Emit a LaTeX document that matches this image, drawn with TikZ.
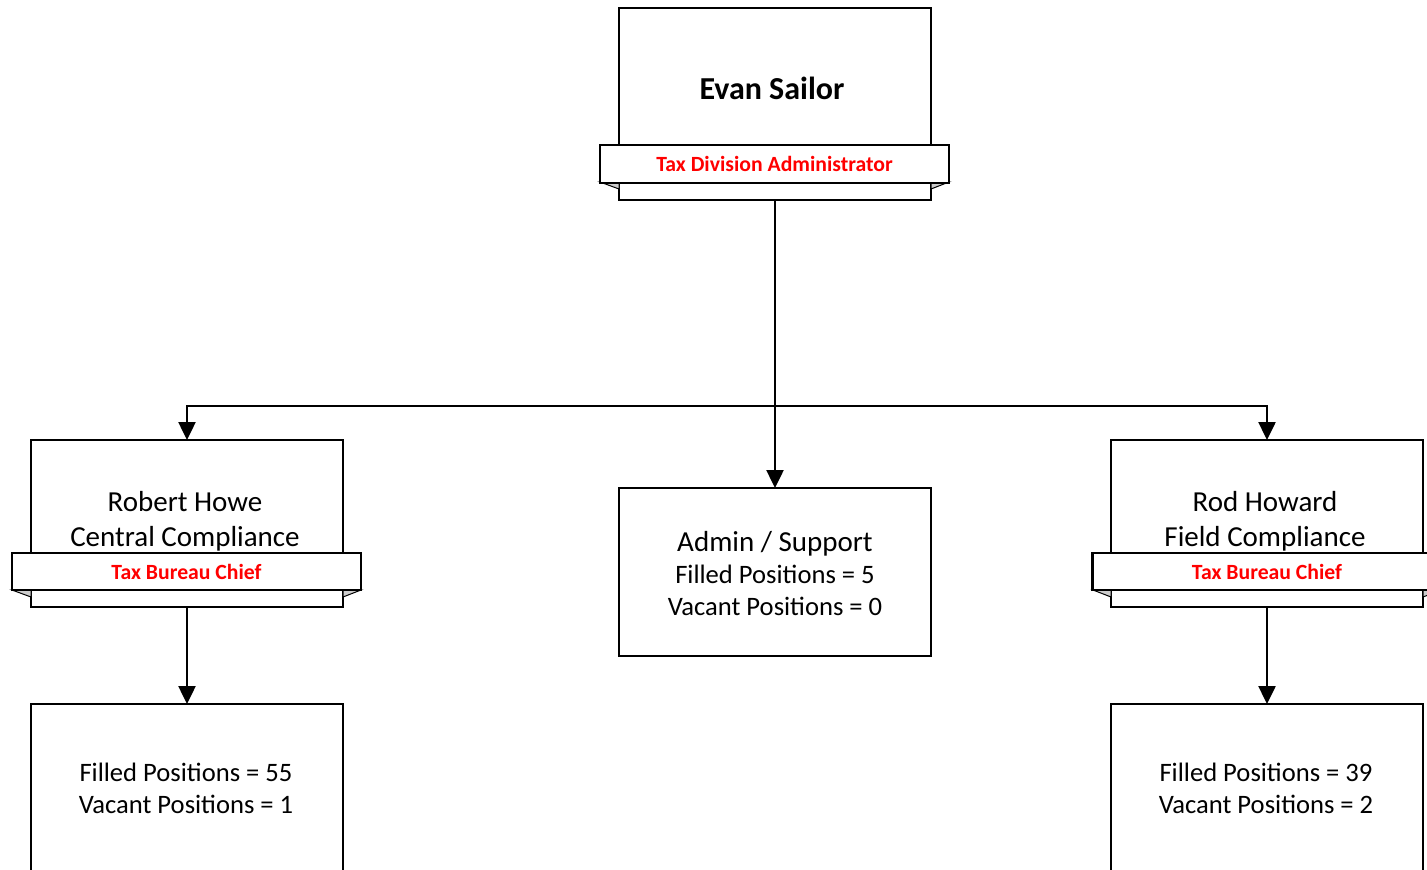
\documentclass[tikz,border=0pt]{standalone}
\usepackage{fontspec}
\setmainfont{Carlito}
\usetikzlibrary{arrows.meta}
\begin{document}
\begin{tikzpicture}[x=1pt,y=-1pt,
  box/.style={draw, line width=2.4pt, fill=white, inner sep=0pt, outer sep=0pt, minimum width=312pt},
  banner/.style={draw, line width=2.4pt, fill=white, inner sep=0pt, outer sep=0pt, minimum width=349pt, minimum height=37pt, text=red, font=\fontsize{21.7}{25}\selectfont\bfseries},
  fold/.style={fill=gray!40, draw=black, line width=1pt},
  txt/.style={font=\fontsize{29}{35}\selectfont, inner sep=0pt, align=center},
  postxt/.style={font=\fontsize{26.6}{32}\selectfont, inner sep=0pt, align=center},
  conn/.style={line width=2.5pt, -{Triangle[width=17pt,length=18pt]}}]
\useasboundingbox (0,0) rectangle (1427,870);
% top
\node[box, minimum height=192pt] (evan) at (775,104) {};
\node[txt, font=\fontsize{32}{38}\selectfont\bfseries] (evant) at (772,88) {Evan Sailor};
\draw[fold] (600,182) -- (619,182) -- (619,189) -- cycle;
\draw[fold] (949,182) -- (931,182) -- (931,189) -- cycle;
\node[banner, minimum height=38pt] (evanb) at (774.5,164) {Tax Division Administrator};
% left
\node[box, minimum height=167pt] (howe) at (187,523.5) {};
\node[txt] (howet) at (185,521.5) {Robert Howe\\Central Compliance};
\draw[fold] (12,590) -- (31,590) -- (31,597) -- cycle;
\draw[fold] (361,590) -- (343,590) -- (343,597) -- cycle;
\node[banner] (howeb) at (186.5,571.5) {Tax Bureau Chief};
% right
\node[box, minimum height=167pt] (rod) at (1267,523.5) {};
\node[txt] (rodt) at (1265,521.5) {Rod Howard\\Field Compliance};
\draw[fold] (1093,590) -- (1111,590) -- (1111,597) -- cycle;
\draw[fold] (1441,590) -- (1423,590) -- (1423,597) -- cycle;
\node[banner] (rodb) at (1267,571.5) {Tax Bureau Chief};
% center
\node[box, minimum height=168pt] (admin) at (775,572) {};
\node[postxt] (admint) at (775,574) {{\fontsize{29}{34}\selectfont Admin / Support}\\Filled Positions = 5\\Vacant Positions = 0};
% bottom
\node[box, minimum height=180pt] (hbot) at (187,794) {};
\node[postxt] (hbott) at (186,788) {Filled Positions = 55\\Vacant Positions = 1};
\node[box, minimum height=180pt] (rbot) at (1267,794) {};
\node[postxt] (rbott) at (1266,788) {Filled Positions = 39\\Vacant Positions = 2};
% connectors
\coordinate (split) at (775,406);
\draw[conn] (split) -| (howe.north);
\draw[conn] (split) -| (rod.north);
\draw[conn] (evan.south) -- (admin.north);
\draw[conn] (howe.south) -- (hbot.north);
\draw[conn] (rod.south) -- (rbot.north);
\end{tikzpicture}
\end{document}
